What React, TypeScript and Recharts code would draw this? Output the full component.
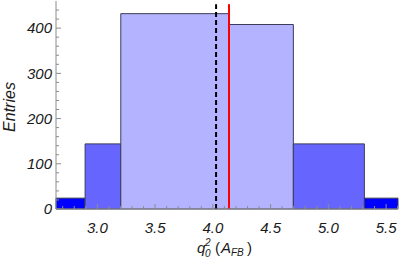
import {
  ComposedChart,
  Line,
  XAxis,
  YAxis,
  ReferenceArea,
  ReferenceLine,
  Label,
} from "recharts";

// histogram bins (q0^2 from A_FB)
const binEdges = [2.642, 2.894, 3.203, 4.138, 4.697, 5.312, 5.603];
const binCounts = [24, 144, 432, 408, 144, 24];

// vertical markers
const meanX = 4.028;
const trueX = 4.14;
const markerTop = 453;

// axis ticks
const xMajor = [3.0, 3.5, 4.0, 4.5, 5.0, 5.5];
const xMinor = [
  2.7, 2.8, 2.9, 3.1, 3.2, 3.3, 3.4, 3.6, 3.7, 3.8, 3.9, 4.1, 4.2, 4.3, 4.4,
  4.6, 4.7, 4.8, 4.9, 5.1, 5.2, 5.3, 5.4, 5.6,
];
const yMajor = [0, 100, 200, 300, 400];
const yMinor = [
  20, 40, 60, 80, 120, 140, 160, 180, 220, 240, 260, 280, 320, 340, 360, 380,
  420, 440,
];

const BIN_COLORS = ["#0000ff", "#6666ff", "#b3b3ff", "#b3b3ff", "#6666ff", "#0000ff"];
const FRAME = "#8c8c8c";
const TEXT = "#1a1a1a";
const FONT = "'Liberation Sans', Arial, sans-serif";

const bins = binCounts.map((count, i) => ({
  x0: binEdges[i],
  x1: binEdges[i + 1],
  mid: (binEdges[i] + binEdges[i + 1]) / 2,
  count,
}));

const isIn = (arr: number[], v: number) => arr.some((a) => Math.abs(a - v) < 1e-6);
const xTicks = [...xMajor, ...xMinor].sort((a, b) => a - b);
const yTicks = [...yMajor, ...yMinor].sort((a, b) => a - b);

function BottomTick({ x, y, payload }: any) {
  const major = isIn(xMajor, payload.value);
  return (
    <g>
      <line x1={x} x2={x} y1={y} y2={y - (major ? 5 : 3)} stroke={FRAME} />
      {major && (
        <text
          x={x}
          y={y + 24}
          textAnchor="middle"
          fontSize={15}
          fontStyle="italic"
          fontFamily={FONT}
          fill={TEXT}
        >
          {payload.value.toFixed(1)}
        </text>
      )}
    </g>
  );
}

function TopTick({ x, y, payload }: any) {
  const major = isIn(xMajor, payload.value);
  return <line x1={x} x2={x} y1={y} y2={y + (major ? 4 : 2)} stroke={FRAME} />;
}

function LeftTick({ x, y, payload }: any) {
  const major = isIn(yMajor, payload.value);
  return (
    <g>
      <line x1={x} x2={x + (major ? 5 : 3)} y1={y} y2={y} stroke={FRAME} />
      {major && (
        <text
          x={x - 4}
          y={y}
          dy="0.35em"
          textAnchor="end"
          fontSize={15}
          fontStyle="italic"
          fontFamily={FONT}
          fill={TEXT}
        >
          {payload.value}
        </text>
      )}
    </g>
  );
}

function RightTick({ x, y, payload }: any) {
  const major = isIn(yMajor, payload.value);
  return <line x1={x} x2={x - (major ? 4 : 2)} y1={y} y2={y} stroke={FRAME} />;
}

function XTitle() {
  const cx = 227;
  const by = 253;
  const common = { fontFamily: FONT, fill: TEXT, fontStyle: "italic" };
  return (
    <g>
      <text x={cx - 30} y={by} fontSize={15} {...common}>q</text>
      <text x={cx - 22} y={by + 4} fontSize={10} {...common}>0</text>
      <text x={cx - 22} y={by - 7} fontSize={10} {...common}>2</text>
      <text x={cx - 12} y={by} fontSize={15} fontFamily={FONT} fill={TEXT}>(</text>
      <text x={cx - 6} y={by} fontSize={15} {...common}>A</text>
      <text x={cx + 4} y={by + 3} fontSize={10} {...common}>FB</text>
      <text x={cx + 20} y={by} fontSize={15} fontFamily={FONT} fill={TEXT}>)</text>
    </g>
  );
}

function YTitle() {
  const cy = 107;
  const x = 15;
  return (
    <text
      x={x}
      y={cy}
      transform={`rotate(-90 ${x} ${cy})`}
      textAnchor="middle"
      fontSize={16}
      fontStyle="italic"
      fontFamily={FONT}
      fill={TEXT}
    >
      Entries
    </text>
  );
}

export default function App() {
  return (
    <div style={{ width: 399, height: 265 }}>
      <style>{"body{margin:0}"}</style>
      <ComposedChart
        width={399}
        height={265}
        data={bins}
        margin={{ top: 1, right: 1, left: 0, bottom: 0 }}
      >
        <XAxis
          xAxisId="b"
          type="number"
          dataKey="mid"
          domain={[binEdges[0], binEdges[binEdges.length - 1]]}
          allowDataOverflow
          ticks={xTicks}
          interval={0}
          tickSize={0}
          tickMargin={0}
          tickLine={false}
          tick={BottomTick}
          axisLine={{ stroke: FRAME }}
          height={56}
        >
          <Label content={XTitle} />
        </XAxis>
        <XAxis
          xAxisId="t"
          orientation="top"
          type="number"
          dataKey="mid"
          domain={[binEdges[0], binEdges[binEdges.length - 1]]}
          allowDataOverflow
          ticks={xTicks}
          interval={0}
          tickSize={0}
          tickMargin={0}
          tickLine={false}
          tick={TopTick}
          axisLine={{ stroke: FRAME }}
          height={0}
        />
        <YAxis
          yAxisId="l"
          type="number"
          domain={[0, 460]}
          allowDataOverflow
          ticks={yTicks}
          interval={0}
          tickSize={0}
          tickMargin={0}
          tickLine={false}
          tick={LeftTick}
          axisLine={{ stroke: FRAME }}
          width={56}
        >
          <Label content={YTitle} />
        </YAxis>
        <YAxis
          yAxisId="r"
          orientation="right"
          type="number"
          domain={[0, 460]}
          allowDataOverflow
          ticks={yTicks}
          interval={0}
          tickSize={0}
          tickMargin={0}
          tickLine={false}
          tick={RightTick}
          axisLine={{ stroke: FRAME }}
          width={0}
        />
        {bins.map((b, i) => (
          <ReferenceArea
            key={i}
            xAxisId="b"
            yAxisId="l"
            x1={b.x0}
            x2={b.x1}
            y1={0}
            y2={b.count}
            fill={BIN_COLORS[i]}
            fillOpacity={1}
            stroke="#3c3c5a"
            strokeWidth={1}
            ifOverflow="visible"
          />
        ))}
        <ReferenceLine
          xAxisId="b"
          yAxisId="l"
          segment={[
            { x: meanX, y: 0 },
            { x: meanX, y: markerTop },
          ]}
          stroke="#000"
          strokeWidth={2}
          strokeDasharray="5 3"
        />
        <ReferenceLine
          xAxisId="b"
          yAxisId="l"
          segment={[
            { x: trueX, y: 0 },
            { x: trueX, y: markerTop },
          ]}
          stroke="#ff0000"
          strokeWidth={2}
        />
        <Line
          xAxisId="b"
          yAxisId="l"
          dataKey="count"
          stroke="none"
          dot={false}
          activeDot={false}
          isAnimationActive={false}
        />
      </ComposedChart>
    </div>
  );
}
